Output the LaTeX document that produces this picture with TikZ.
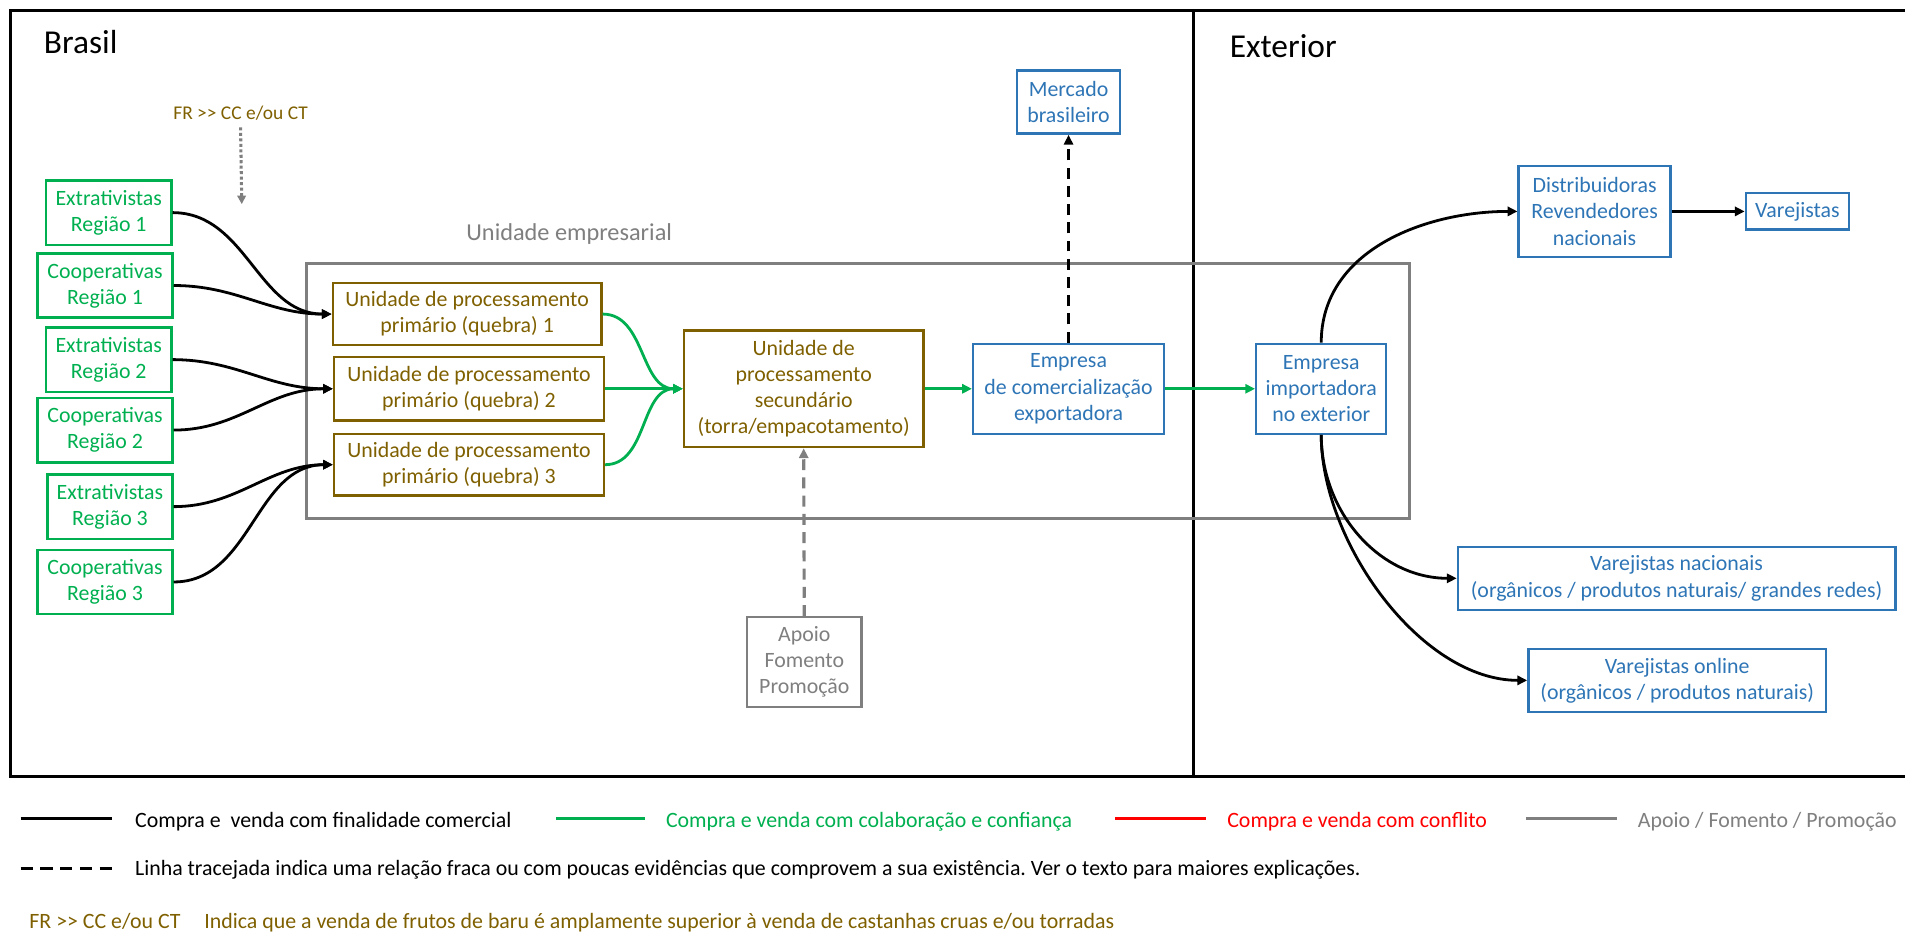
\documentclass[tikz,border=0pt]{standalone}
\usepackage{fontspec}
\newfontfamily\carlito{Carlito}
\newcommand\myfont[2]{\carlito\fontsize{#1}{#2}\selectfont}
\usetikzlibrary{arrows.meta}
\definecolor{cgreen}{HTML}{00B050}
\definecolor{cbrown}{HTML}{7F6000}
\definecolor{cblue}{HTML}{2E75B6}
\definecolor{cgray}{HTML}{7F7F7F}
\definecolor{cred}{HTML}{FF0000}
\frenchspacing

\begin{document}
\begin{tikzpicture}[x=1pt,y=1pt,
  base/.style={draw, line width=2pt, align=center, inner sep=0pt, font=\myfont{18}{21.5}},
  gbox/.style={base, draw=cgreen, text=cgreen},
  obox/.style={base, draw=cbrown, text=cbrown},
  bbox/.style={base, draw=cblue, text=cblue},
  ybox/.style={base, draw=cgray, text=cgray},
  sz/.style 2 args={minimum width=#1pt, minimum height=#2pt},
  tip/.style={-{Triangle[length=8pt,width=7.5pt]}},
  trade/.style={tip, line width=2.3pt, black},
  coop/.style={tip, line width=2.3pt, cgreen},
  weak/.style={tip, line width=2.6pt, black, dash pattern=on 9pt off 6pt},
  support/.style={tip, line width=2.6pt, cgray, dash pattern=on 9pt off 6pt},
  legtext/.style={anchor=base west, inner sep=0pt, font=\myfont{18}{22}},
  legline/.style={line width=2.5pt},
  title/.style={anchor=base west, inner sep=0pt, font=\myfont{27.5}{32}}
]
\useasboundingbox (0,0) rectangle (1568,-774);

% open frame (top, left, bottom) and the Brasil / Exterior divider
\draw[line width=2.5pt] (1568,-9) -- (9,-9) -- (9,-639) -- (1568,-639);
\draw[line width=2.5pt] (982,-9) -- (982,-639);
\node[title] (brasil) at (36,-44) {Brasil};
\node[title] (exterior) at (1012,-47) {Exterior};

% business unit frame
\node[draw=cgray, line width=2.4pt, inner sep=0pt, sz={908}{210}] (ue) at (706,-322) {};
\node[anchor=base, inner sep=0pt, text=cgray, font=\myfont{20}{24}] (uelabel) at (468.5,-198) {Unidade empresarial};

% FR marker with dotted arrow
\node[anchor=base, inner sep=0pt, text=cbrown, font=\myfont{16}{19}] (fr) at (198,-98) {FR >> CC e/ou CT};
\coordinate (frtip) at (199,-168);
\draw[cgray, line width=2.5pt, dash pattern=on 2.5pt off 2pt, -{Triangle[length=7pt,width=7pt]}] ([yshift=-6pt]fr.south) -- (frtip);

% producers
\node[gbox, sz={103}{53}] (er1) at (89.5,-175) {Extrativistas\\Região 1};
\node[gbox, sz={111}{53}] (cr1) at (86.5,-235) {Cooperativas\\Região 1};
\node[gbox, sz={103}{53}] (er2) at (89.5,-296) {Extrativistas\\Região 2};
\node[gbox, sz={111}{53}] (cr2) at (86.5,-354) {Cooperativas\\Região 2};
\node[gbox, sz={103}{53}] (er3) at (90.5,-417) {Extrativistas\\Região 3};
\node[gbox, sz={111}{53}] (cr3) at (86.5,-479) {Cooperativas\\Região 3};

% processing units
\node[obox, sz={221}{51}] (upp1) at (384.5,-258.5) {Unidade de processamento\\primário (quebra) 1};
\node[obox, sz={222}{52}] (upp2) at (386,-320) {Unidade de processamento\\primário (quebra) 2};
\node[obox, sz={222}{51}] (upp3) at (386,-382.5) {Unidade de processamento\\primário (quebra) 3};
\node[obox, sz={197}{96}] (ups) at (661.5,-320) {Unidade de\\processamento\\secundário\\(torra/empacotamento)};

% trading companies and markets
\node[bbox, sz={157}{74}] (exp) at (879.5,-320) {Empresa\\de comercialização\\exportadora};
\node[bbox, sz={85}{52}] (merc) at (879.5,-84) {Mercado\\brasileiro};
\node[bbox, sz={107}{74}] (imp) at (1087.5,-320) {Empresa\\importadora\\no exterior};
\node[bbox, sz={125}{75}] (dist) at (1312.5,-174) {Distribuidoras\\Revendedores\\nacionais};
\node[bbox, sz={85}{30}] (varj) at (1479.5,-174) {Varejistas};
\node[bbox, sz={360}{52}] (vnac) at (1380,-476) {Varejistas nacionais\\(orgânicos / produtos naturais/ grandes redes)};
\node[bbox, sz={245}{52}] (vonl) at (1380.5,-560) {Varejistas online\\(orgânicos / produtos naturais)};

% support
\node[ybox, sz={94}{74}] (apoio) at (662,-545) {Apoio\\Fomento\\Promoção};

% producer sales
\draw[trade] (er1.east) to[out=0,in=180] (upp1.west);
\draw[trade] (cr1.east) to[out=0,in=180] (upp1.west);
\draw[trade] (er2.east) to[out=0,in=180] (upp2.west);
\draw[trade] (cr2.east) to[out=0,in=180] (upp2.west);
\draw[trade] (er3.east) to[out=0,in=180] (upp3.west);
\draw[trade] (cr3.east) to[out=0,in=180] (upp3.west);

% collaborative chain
\draw[coop] (upp1.east) to[out=0,in=180] (ups.west);
\draw[coop] (upp2.east) -- (ups.west);
\draw[coop] (upp3.east) to[out=0,in=180] (ups.west);
\draw[coop] (ups.east) -- (exp.west);
\draw[coop] (exp.east) -- (imp.west);

% weak and support links
\draw[weak] (exp.north) -- (merc.south);
\draw[support] (apoio.north) -- (ups.south);

% foreign distribution
\draw[trade] (imp.north) to[out=90,in=180] (dist.west);
\draw[trade] (dist.east) -- (varj.west);
\draw[trade] (imp.south) to[out=-90,in=180] (vnac.west);
\draw[trade] (imp.south) to[out=-90,in=180,looseness=0.85] (vonl.west);

% legend
\draw[legline, black] (17,-674) -- (92,-674);
\node[legtext] (lg1) at (111,-681) {Compra e\ \ venda com finalidade comercial};
\draw[legline, cgreen] (458,-674) -- (531,-674);
\node[legtext, text=cgreen] (lg2) at (548,-681) {Compra e venda com colaboração e confiança};
\draw[legline, cred] (918,-674) -- (993,-674);
\node[legtext, text=cred] (lg3) at (1010,-681) {Compra e venda com conflito};
\draw[legline, cgray] (1256,-674) -- (1331,-674);
\node[legtext, text=cgray] (lg4) at (1348,-681) {Apoio / Fomento / Promoção};

\draw[legline, black, dash pattern=on 10pt off 6.25pt] (17,-715) -- (92,-715);
\node[legtext] (lg5) at (111,-721) {Linha tracejada indica uma relação fraca ou com poucas evidências que comprovem a sua existência. Ver o texto para maiores explicações.};

\node[legtext, text=cbrown] (lg6) at (24,-764) {FR >> CC e/ou CT};
\node[legtext, text=cbrown] (lg7) at (168,-764) {Indica que a venda de frutos de baru é amplamente superior à venda de castanhas cruas e/ou torradas};
\end{tikzpicture}
\end{document}
